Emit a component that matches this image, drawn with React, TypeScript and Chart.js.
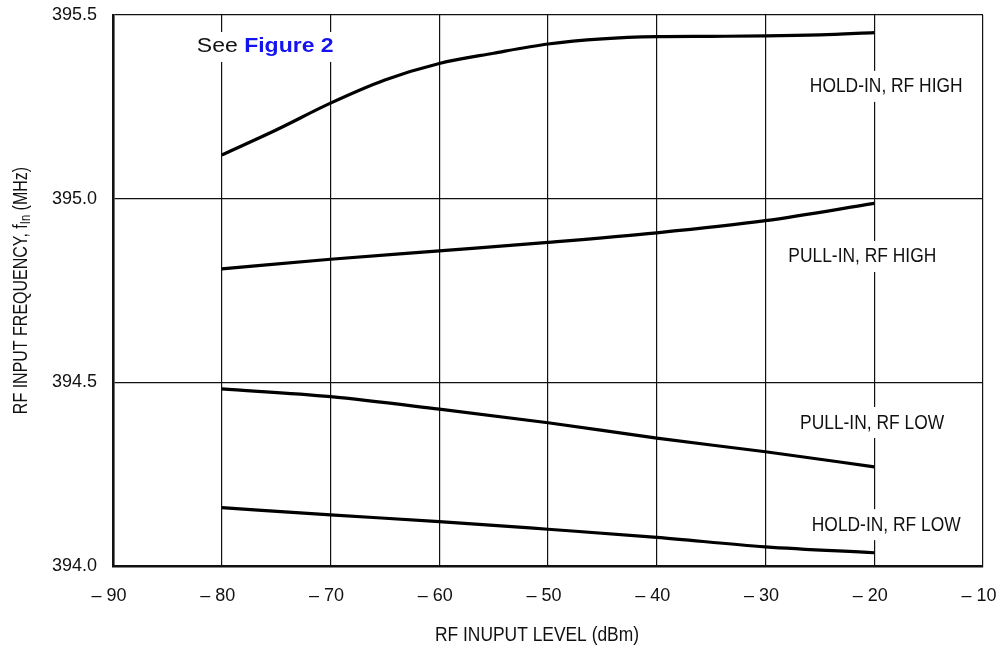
import React, { useEffect, useRef } from 'react';
import { Chart, registerables } from 'chart.js';

Chart.register(...registerables);

// ---- data ----
const holdInHighX = [-80, -75, -70, -65, -60, -55, -50, -45, -40, -35, -30, -25, -20];
const holdInHigh = [395.119, 395.187, 395.26, 395.323, 395.368, 395.396, 395.421, 395.435, 395.441, 395.442, 395.443, 395.446, 395.452];
const levelsX = [-80, -70, -60, -50, -40, -30, -20];
const pullInHigh = [394.809, 394.835, 394.858, 394.881, 394.907, 394.94, 394.987];
const pullInLow = [394.482, 394.461, 394.427, 394.39, 394.348, 394.311, 394.27];
const holdInLow = [394.159, 394.139, 394.121, 394.1, 394.078, 394.052, 394.036];

const xMin = -90;
const xMax = -10;
const yMin = 394.0;
const yMax = 395.5;

const curveLabels = ['HOLD-IN, RF HIGH', 'PULL-IN, RF HIGH', 'PULL-IN, RF LOW', 'HOLD-IN, RF LOW'];
const curveLabelX = [-18.9, -21.1, -20.2, -18.9];
const curveLabelY = [395.307, 394.844, 394.392, 394.114];

const noteX = -76;
const noteY = 395.413;
const notePlain = 'See ';
const noteLink = 'Figure 2';

const xTitle = 'RF INUPUT LEVEL (dBm)';
const yTitleMain = 'RF INPUT FREQUENCY, f';
const yTitleSub = 'In';
const yTitleEnd = ' (MHz)';

const SANS = '"Liberation Sans", Arial, sans-serif';

const toPts = (xs: number[], ys: number[]) => xs.map((x, i) => ({ x, y: ys[i] }));

const annotations = {
  id: 'annotations',
  afterDraw(chart: any) {
    const { ctx, scales } = chart;
    const xs = scales.x;
    const ys = scales.y;
    const NARROW_X = 0.87;

    // curve labels with white backing (condensed)
    curveLabels.forEach((t, i) => {
      const px = xs.getPixelForValue(curveLabelX[i]);
      const py = ys.getPixelForValue(curveLabelY[i]);
      ctx.save();
      ctx.font = `20px ${SANS}`;
      ctx.textAlign = 'center';
      ctx.textBaseline = 'middle';
      const w = ctx.measureText(t).width * NARROW_X;
      ctx.fillStyle = '#ffffff';
      ctx.fillRect(px - w / 2 - 3, py - 15, w + 6, 31);
      ctx.translate(px, py + 1);
      ctx.scale(NARROW_X, 1);
      ctx.fillStyle = '#111111';
      ctx.fillText(t, 0, 0);
      ctx.restore();
    });

    // "See Figure 2"
    ctx.save();
    const NOTE_X = 1.15;
    ctx.textAlign = 'left';
    ctx.textBaseline = 'middle';
    ctx.font = `20px ${SANS}`;
    const w1 = ctx.measureText(notePlain).width;
    ctx.font = `bold 20px ${SANS}`;
    const w2 = ctx.measureText(noteLink).width;
    const ncx = xs.getPixelForValue(noteX);
    const ncy = ys.getPixelForValue(noteY);
    const tw = (w1 + w2) * NOTE_X;
    ctx.fillStyle = '#ffffff';
    ctx.fillRect(ncx - tw / 2 - 6, ncy - 15, tw + 12, 30);
    ctx.translate(ncx - tw / 2, ncy);
    ctx.scale(NOTE_X, 1);
    ctx.font = `20px ${SANS}`;
    ctx.fillStyle = '#111111';
    ctx.fillText(notePlain, 0, 0);
    ctx.font = `bold 20px ${SANS}`;
    ctx.fillStyle = '#1414f0';
    ctx.fillText(noteLink, w1, 0);
    ctx.restore();

    // x title
    ctx.save();
    ctx.font = `20px ${SANS}`;
    ctx.fillStyle = '#111111';
    ctx.textAlign = 'center';
    ctx.textBaseline = 'middle';
    ctx.translate(537, 635);
    ctx.scale(NARROW_X, 1);
    ctx.fillText(xTitle, 0, 0);
    ctx.restore();

    // y title (rotated, with subscript)
    ctx.save();
    const mainFont = `20px ${SANS}`;
    const subFont = `14px ${SANS}`;
    ctx.font = mainFont;
    const a = ctx.measureText(yTitleMain).width;
    const c = ctx.measureText(yTitleEnd).width;
    ctx.font = subFont;
    const b = ctx.measureText(yTitleSub).width;
    const total = a + b + c;
    const cy = (chart.chartArea.top + chart.chartArea.bottom) / 2;
    ctx.fillStyle = '#111111';
    ctx.translate(21, cy);
    ctx.rotate(-Math.PI / 2);
    ctx.scale(0.8, 1);
    ctx.textAlign = 'left';
    ctx.textBaseline = 'middle';
    ctx.font = mainFont;
    ctx.fillText(yTitleMain, -total / 2, 0);
    ctx.font = subFont;
    ctx.fillText(yTitleSub, -total / 2 + a, 5);
    ctx.font = mainFont;
    ctx.fillText(yTitleEnd, -total / 2 + a + b, 0);
    ctx.restore();
  },
};

export default function App() {
  const ref = useRef<HTMLCanvasElement | null>(null);

  useEffect(() => {
    if (!ref.current) return;
    const line = (label: string, pts: { x: number; y: number }[]) => ({
      label,
      data: pts,
      borderColor: '#000000',
      borderWidth: 3.2,
      pointRadius: 0,
      fill: false,
      cubicInterpolationMode: 'monotone' as const,
    });
    const chart = new Chart(ref.current, {
      type: 'line',
      data: {
        datasets: [
          line(curveLabels[0], toPts(holdInHighX, holdInHigh)),
          line(curveLabels[1], toPts(levelsX, pullInHigh)),
          line(curveLabels[2], toPts(levelsX, pullInLow)),
          line(curveLabels[3], toPts(levelsX, holdInLow)),
        ],
      },
      options: {
        animation: false,
        responsive: true,
        maintainAspectRatio: false,
        layout: { padding: { left: 0, top: 15, right: 23, bottom: 0 } },
        plugins: {
          legend: { display: false },
          tooltip: { enabled: false },
        },
        scales: {
          x: {
            type: 'linear',
            min: xMin,
            max: xMax,
            afterFit: (s: any) => {
              s.height = 84;
              s.paddingLeft = 0;
              s.paddingRight = 0;
            },
            ticks: {
              stepSize: 10,
              padding: 19,
              labelOffset: -4,
              color: '#111111',
              font: { family: SANS, size: 18 },
              callback: (v: any) => '\u2013 ' + Math.abs(Number(v)),
            },
            grid: { color: '#111111', lineWidth: 1.2, drawTicks: false },
            border: { display: true, color: '#111111', width: 2.6 },
          },
          y: {
            type: 'linear',
            min: yMin,
            max: yMax,
            afterFit: (s: any) => {
              s.width = 113;
              s.paddingTop = 0;
              s.paddingBottom = 0;
            },
            ticks: {
              stepSize: 0.5,
              padding: 16,
              color: '#111111',
              font: { family: SANS, size: 18 },
              callback: (v: any) => Number(v).toFixed(1),
            },
            grid: { color: '#111111', lineWidth: 1.2, drawTicks: false },
            border: { display: true, color: '#111111', width: 2.6 },
          },
        },
      },
      plugins: [annotations],
    });
    return () => chart.destroy();
  }, []);

  return (
    <div style={{ position: 'fixed', left: 0, top: 0, width: 1006, height: 650, background: '#fff' }}>
      <canvas ref={ref} />
    </div>
  );
}
